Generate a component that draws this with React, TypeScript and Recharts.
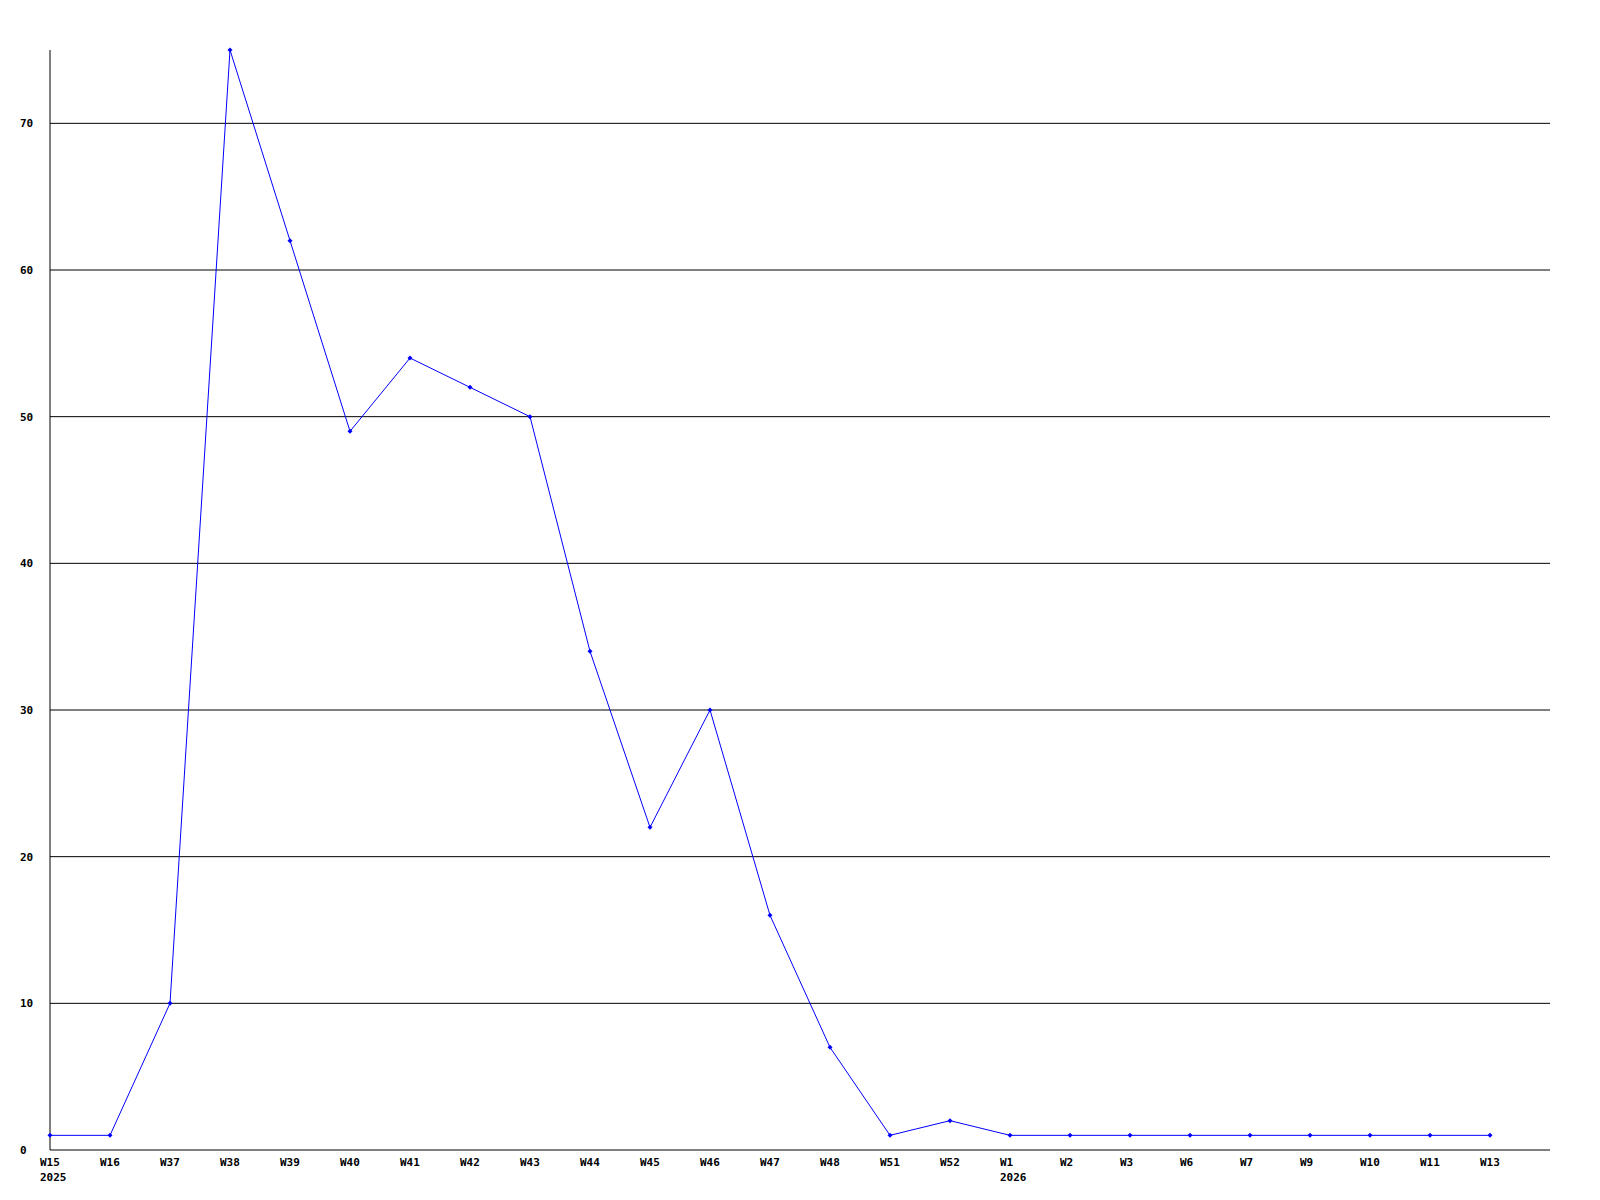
import React from 'react';
import { LineChart, Line, XAxis, YAxis, ReferenceLine } from 'recharts';

const weeks = ['W15','W16','W37','W38','W39','W40','W41','W42','W43','W44','W45','W46','W47','W48','W51','W52','W1','W2','W3','W6','W7','W9','W10','W11','W13'];
const years = ['2025','','','','','','','','','','','','','','','','2026','','','','','','','',''];
const counts = [1,1,10,75,62,49,54,52,50,34,22,30,16,7,1,2,1,1,1,1,1,1,1,1,1];
const yTicks = [0,10,20,30,40,50,60,70];

const data = weeks.map((w, i) => ({ idx: i, week: w, year: years[i], value: counts[i] }));
const xTicks = weeks.map((_, i) => i);

const FONT = '"DejaVu Sans Mono", monospace';

const XTick = (props: any) => {
  const { x, payload } = props;
  const i = payload.value as number;
  return (
    <g>
      <text x={x - 10} y={1166} textAnchor="start" fontFamily={FONT} fontWeight="bold" fontSize={11} fill="#000">{weeks[i]}</text>
      {years[i] ? (
        <text x={x - 10} y={1181} textAnchor="start" fontFamily={FONT} fontWeight="bold" fontSize={11} fill="#000">{years[i]}</text>
      ) : null}
    </g>
  );
};

const YTick = (props: any) => {
  const { y, payload } = props;
  return (
    <text x={20} y={y} dy={4} textAnchor="start" fontFamily={FONT} fontWeight="bold" fontSize={11} fill="#000">{payload.value}</text>
  );
};

const Dot = (props: any) => {
  const { cx, cy } = props;
  if (cx == null || cy == null) return null;
  const r = 2.5;
  return (
    <polygon points={`${cx},${cy - r} ${cx + r},${cy} ${cx},${cy + r} ${cx - r},${cy}`} fill="#0000ff" stroke="none" />
  );
};

export default function App() {
  return (
    <div style={{ position: 'absolute', left: 0, top: 0, width: 1600, height: 1200, background: '#fff' }}>
      <LineChart width={1600} height={1200} data={data} margin={{ top: 50, right: 50, bottom: 0, left: 0 }}>
        {yTicks.filter((v) => v > 0).map((v) => (
          <ReferenceLine key={v} y={v} stroke="#000" strokeWidth={1} />
        ))}
        <XAxis
          dataKey="idx"
          type="number"
          domain={[0, 25]}
          ticks={xTicks}
          interval={0}
          height={50}
          tickLine={false}
          axisLine={{ stroke: '#000', strokeWidth: 1 }}
          tick={<XTick />}
        />
        <YAxis
          type="number"
          domain={[0, 75]}
          ticks={yTicks}
          interval={0}
          width={50}
          tickLine={false}
          axisLine={{ stroke: '#000', strokeWidth: 1 }}
          tick={<YTick />}
        />
        <Line
          type="linear"
          dataKey="value"
          stroke="#0000ff"
          strokeWidth={1}
          dot={<Dot />}
          activeDot={false}
          isAnimationActive={false}
        />
      </LineChart>
    </div>
  );
}
